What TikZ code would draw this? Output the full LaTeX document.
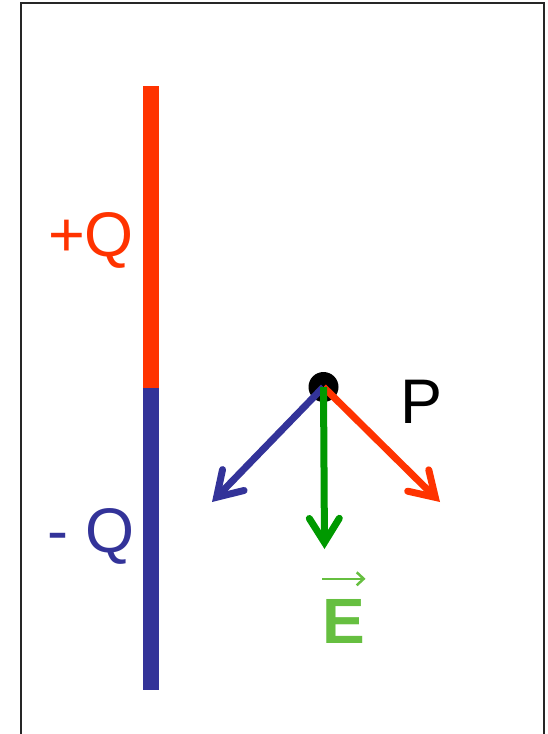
\documentclass[tikz,border=0pt]{standalone}
\usepackage{fontspec}
\setmainfont{Liberation Sans}
\usetikzlibrary{arrows.meta}
\definecolor{posred}{HTML}{FF3300}
\definecolor{negblue}{HTML}{333399}
\definecolor{fieldgreen}{HTML}{009900}
\definecolor{elabel}{HTML}{66BF40}
\begin{document}
\begin{tikzpicture}[x=1pt,y=-1pt,
  vec/.style={line width=7pt, -{Straight Barb[length=24pt,width=30pt,line cap=round]}},
  lbl/.style={inner sep=0pt, text height=45pt, text depth=0pt, font=\fontsize{63}{63}\selectfont}]
\useasboundingbox (0,0) rectangle (547,734);
\clip (0,0) rectangle (547,734);
\draw[line width=2pt, black!85] (21,3) rectangle (544,760);
% charged rod
\fill[posred] (142.5,86) rectangle (158.5,388);
\fill[negblue] (142.5,388) rectangle (158.5,690);
% point P and field vectors
\node[circle, fill=black, minimum size=30pt, inner sep=0pt] (P) at (323.5,387) {};
\coordinate (bt) at (212,502);
\coordinate (rt) at (440,502);
\coordinate (gt) at (324.5,549);
\draw[vec, negblue] (P.center) -- (bt);
\draw[vec, posred] (P.center) -- (rt);
\draw[vec, fieldgreen] (P.center) -- (gt);
% labels
\node[lbl] (Plbl) at (422,400.5) {P};
\node[lbl, text=posred] (qpos) at (91,234) {+Q};
\node[lbl, text=negblue] (qneg) at (91,530) {- Q};
\node[lbl, text height=46pt, text=elabel, font=\fontsize{64}{64}\selectfont\bfseries] (E) at (344,620) {E};
\draw[elabel, line width=2.5pt, -{Straight Barb[length=7pt,width=13pt]}]
  ([yshift=18pt]E.north west) -- ([yshift=18pt]E.north east);
\end{tikzpicture}
\end{document}
